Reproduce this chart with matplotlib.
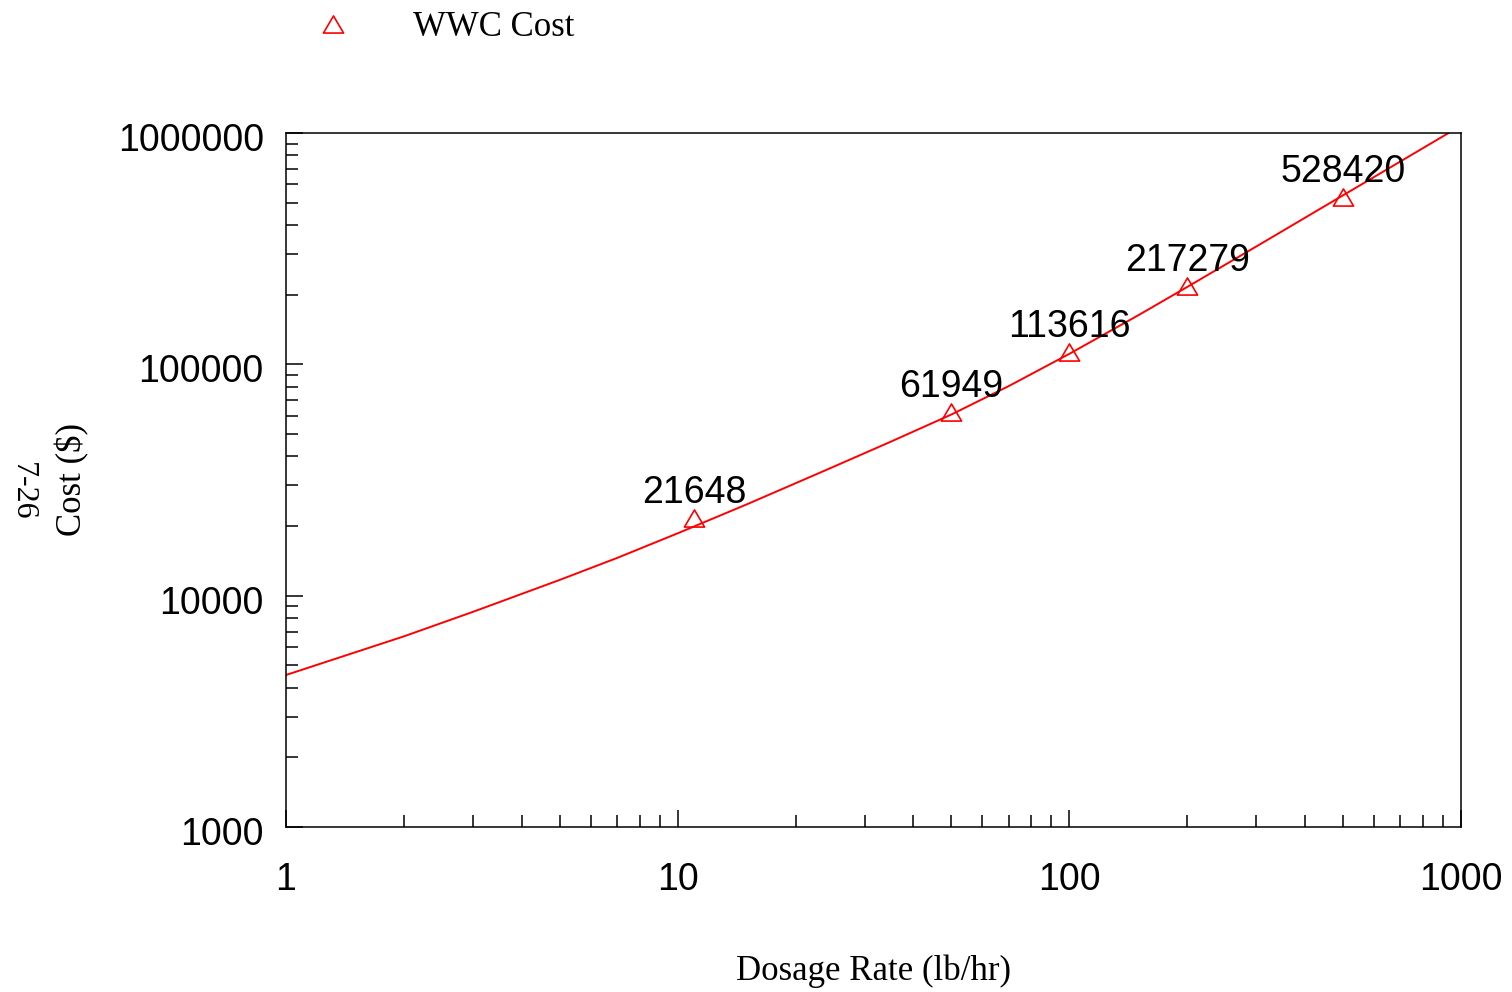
import matplotlib
matplotlib.use('Agg')
import matplotlib.pyplot as plt
import matplotlib.transforms as mtransforms
from matplotlib.path import Path
from matplotlib.ticker import FixedLocator, NullFormatter

# Data points (dosage rate lb/hr, cost $)
dose = [11, 50, 100, 200, 500]
cost = [21648, 61949, 113616, 217279, 528420]

# Fitted cost curve
fit_x = [1, 2, 3, 5, 7, 10, 15, 24, 35, 50, 70, 100, 150, 200, 300, 500, 700, 950]
fit_y = [4540, 6670, 8510, 11700, 14550, 18600, 24800, 35000, 46300, 60700,
         80500, 111000, 163000, 216000, 323000, 538000, 753000, 1022000]

x_ticks = [1, 10, 100, 1000]
y_ticks = [1000, 10000, 100000, 1000000]

sans = 'Liberation Sans'
serif = 'Liberation Serif'

fig = plt.figure(figsize=(15.12, 9.92), dpi=100)
ax = fig.add_axes([286 / 1512, 165 / 992, 1175 / 1512, 694 / 992])

# triangle marker, a bit flatter than matplotlib's '^'
tri = Path([(-1, -0.85), (1, -0.85), (0, 0.85), (-1, -0.85)], closed=True)

ax.plot(fit_x, fit_y, color='#ff0000', lw=1.4)
pts, = ax.plot(dose, cost, ls='none', marker=tri, ms=14.5, mfc='none',
               mec='#ff0000', mew=1.2, label='WWC Cost')

for x, y in zip(dose, cost):
    ax.annotate(str(y), (x, y), xytext=(0, 18), textcoords='offset points',
                ha='center', va='center', fontsize=27, family=sans)

ax.set_xscale('log')
ax.set_yscale('log')
ax.set_xlim(1, 1000)
ax.set_ylim(1000, 1000000)

ax.xaxis.set_major_locator(FixedLocator(x_ticks))
ax.yaxis.set_major_locator(FixedLocator(y_ticks))
ax.set_xticklabels([str(v) for v in x_ticks])
ax.set_yticklabels([str(v) for v in y_ticks])
ax.xaxis.set_minor_formatter(NullFormatter())
ax.yaxis.set_minor_formatter(NullFormatter())
for lab in ax.get_xticklabels() + ax.get_yticklabels():
    lab.set_family(sans)
    lab.set_fontsize(27)

ax.tick_params(which='both', direction='in', top=False, right=False, width=1.1)
ax.tick_params(which='major', length=12)
ax.tick_params(which='minor', length=8.5)
ax.tick_params(axis='x', pad=25)
ax.tick_params(axis='y', pad=16)
for s in ax.spines.values():
    s.set_linewidth(1.1)

# y tick labels sit a little below their ticks in the original
shift = mtransforms.ScaledTranslation(0, -4 / 100, fig.dpi_scale_trans)
for lab in ax.get_yticklabels():
    lab.set_transform(lab.get_transform() + shift)

ax.set_xlabel('Dosage Rate (lb/hr)', family=serif, fontsize=25)
ax.xaxis.set_label_coords(0.5, (827 - 955) / 694)
ax.set_ylabel('Cost ($)', family=serif, fontsize=25)
ax.yaxis.set_label_coords((89 - 286) / 1175, 0.5)

fig.text(22 / 1512, 1 - 491 / 992, '7-26', rotation=270, ha='center', va='center',
         family=serif, fontsize=23)

fig.legend(handles=[pts], loc='center left', bbox_to_anchor=(298 / 1512, 1 - 28 / 992),
           frameon=False, handlelength=2, handletextpad=1.31, borderpad=0,
           borderaxespad=0, prop={'family': serif, 'size': 25})

fig.savefig('out.png', dpi=100)
